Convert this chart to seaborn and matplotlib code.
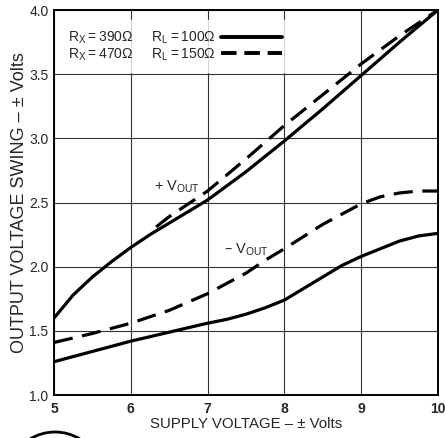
import matplotlib
matplotlib.use("Agg")
import matplotlib.pyplot as plt
import matplotlib.patches as mpatches
import seaborn as sns

# ---- data ----
x_pos100 = [5.0, 5.25, 5.5, 5.75, 6.0, 6.25, 6.5, 6.75, 7.0, 7.5, 8.0, 8.5, 9.0, 9.5, 10.0]
pos_rl100 = [1.60, 1.78, 1.92, 2.04, 2.15, 2.25, 2.34, 2.43, 2.52, 2.74, 2.98, 3.23, 3.49, 3.75, 4.0]

x_pos150 = [6.33, 6.5, 6.75, 7.0, 7.5, 8.0, 8.5, 9.0, 9.5, 10.0]
pos_rl150 = [2.31, 2.39, 2.49, 2.59, 2.84, 3.10, 3.34, 3.58, 3.80, 4.0]

x_neg = [5.0, 5.5, 6.0, 6.5, 7.0, 7.25, 7.5, 7.75, 8.0, 8.25, 8.5, 8.75, 9.0, 9.25, 9.5, 9.75, 10.0]
neg_rl100 = [1.26, 1.34, 1.42, 1.49, 1.56, 1.59, 1.63, 1.68, 1.74, 1.83, 1.92, 2.01, 2.08, 2.14, 2.20, 2.24, 2.26]
neg_rl150 = [1.41, 1.48, 1.56, 1.66, 1.79, 1.87, 1.95, 2.05, 2.14, 2.235, 2.33, 2.41, 2.49, 2.545, 2.575, 2.59, 2.59]

x_ticks = [5, 6, 7, 8, 9, 10]
y_ticks = [1.0, 1.5, 2.0, 2.5, 3.0, 3.5, 4.0]
legend_labels = [r"$\mathregular{R_X = 390\Omega}$     $\mathregular{R_L = 100\Omega}$",
                 r"$\mathregular{R_X = 470\Omega}$     $\mathregular{R_L = 150\Omega}$"]

sns.set_theme(style="white")
plt.rcParams["font.family"] = ["Liberation Sans", "DejaVu Sans"]

fig = plt.figure(figsize=(4.45, 4.38), dpi=100)
ax = fig.add_axes([0.1213, 0.098, 0.8627, 0.879])

lw = 2.3
dash = (6, 3)
sns.lineplot(x=x_pos100, y=pos_rl100, ax=ax, color="black", lw=lw, label=legend_labels[0])
sns.lineplot(x=x_pos150, y=pos_rl150, ax=ax, color="black", lw=lw, label=legend_labels[1])
sns.lineplot(x=x_neg, y=neg_rl100, ax=ax, color="black", lw=lw, legend=False)
sns.lineplot(x=x_neg, y=neg_rl150, ax=ax, color="black", lw=lw, legend=False)
lines = ax.get_lines()
for ln in lines:
    ln.set_solid_capstyle("round")
    ln.set_solid_joinstyle("round")
lines[1].set_dashes(dash)
lines[3].set_dashes(dash)

ax.set_xlim(5, 10)
ax.set_ylim(1.0, 4.0)
ax.set_xticks(x_ticks)
ax.set_yticks(y_ticks)
ax.set_xticklabels([str(t) for t in x_ticks], fontsize=10, fontweight="bold")
ax.set_yticklabels([f"{t:.1f}" for t in y_ticks], fontsize=10)
ax.tick_params(axis="both", length=0, pad=4)
ax.tick_params(axis="x", pad=5)
ax.grid(True, color="#333333", lw=0.8)
for s in ax.spines.values():
    s.set_color("black")
    s.set_linewidth(1.4)

ax.set_xlabel("SUPPLY VOLTAGE – ± Volts", fontsize=10.8, labelpad=1)
ax.set_ylabel("OUTPUT VOLTAGE SWING – ± Volts", fontsize=13, labelpad=0.5)

leg = ax.legend(loc="upper left", bbox_to_anchor=(0.0, 0.985), frameon=True,
                markerfirst=False, handlelength=4.4,
                fontsize=10, borderaxespad=0.3, labelspacing=0.0, handletextpad=0.4,
                fancybox=False, borderpad=0.7)
leg.get_frame().set_facecolor("white")
leg.get_frame().set_edgecolor("white")
for h in leg.get_lines():
    h.set_linewidth(2.8)
leg.get_lines()[1].set_dashes((4, 2))

ax.text(6.3, 2.62, r"+ V$\mathregular{_{OUT}}$", fontsize=10.5, ha="left", va="center")
ax.text(7.22, 2.13, r"– V$\mathregular{_{OUT}}$", fontsize=10.5, ha="left", va="center")

arc = mpatches.Arc((55 / 445, -36 / 438), 90 / 445, 84 / 438, theta1=20, theta2=160,
                   transform=fig.transFigure, lw=2, color="black", clip_on=False)
fig.patches.append(arc)

fig.savefig("out.png", dpi=100)
